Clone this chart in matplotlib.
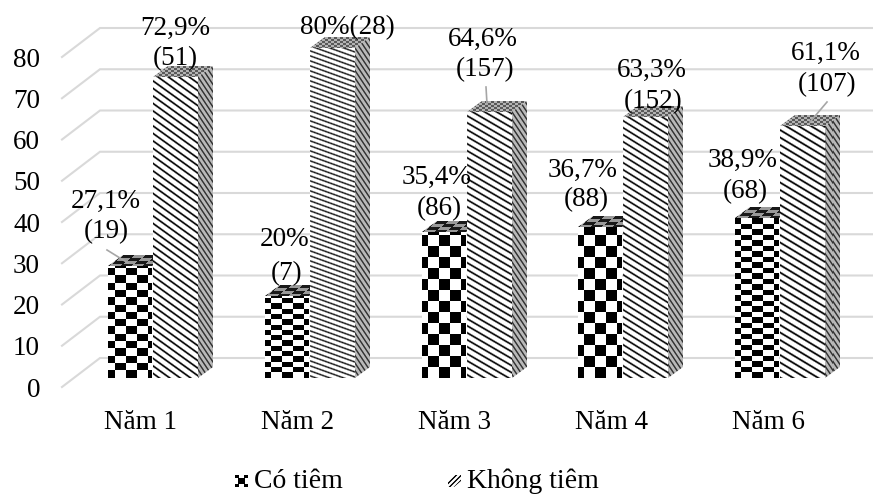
import numpy as np
import matplotlib
matplotlib.use("Agg")
import matplotlib.pyplot as plt
from matplotlib.patches import Polygon

plt.rcParams['font.family'] = ['Liberation Serif', 'DejaVu Serif']

# data
categories = ['Năm 1', 'Năm 2', 'Năm 3', 'Năm 4', 'Năm 6']
co_tiem = [27.1, 20, 35.4, 36.7, 38.9]
khong_tiem = [72.9, 80, 64.6, 63.3, 61.1]
y_ticks = [0, 10, 20, 30, 40, 50, 60, 70, 80]
series_names = ['Có tiêm', 'Không tiêm']

# label text and where it sits (pixels of the 873x494 picture, centre)
label_co = [('27,1%', '(19)'), ('20%', '(7)'), ('35,4%', '(86)'), ('36,7%', '(88)'), ('38,9%', '(68)')]
label_khong = [('72,9%', '(51)'), ('80%(28)', ''), ('64,6%', '(157)'), ('63,3%', '(152)'), ('61,1%', '(107)')]
pos_co = [((106, 201), (106, 232)), ((285, 239), (287, 274)), ((437, 177), (439, 209)),
          ((583, 170), (586, 200)), ((743, 160), (745, 192))]
pos_khong = [((175, 28), (175, 59)), ((347, 28), None), ((483, 39), (485, 70)),
             ((652, 70), (653, 102)), ((826, 53), (827, 85))]
leaders = [((107, 250), (128, 263)), ((827, 102), (810, 122)), ((486, 87), (487, 104))]

# texture per bar
check_h = [7.3, 5.3, 11, 11, 5.5]
check_off = [6.7, 6, 5.6, 5.5, 5.5]
stripe_slope = [0.72, 0.36, 0.58, 0.62, 0.6]
stripe_period = [7.5, 5.0, 7.0, 7.0, 7.5]

W, H = 873, 494
SPACING = 156.75
PY = 4.125        # pixels per unit
BASE = 378        # pixel row of value 0 at the bars
X0 = 152          # pixel column of first group centre
BAR_W = 45
DX, DY = 15, 11   # depth of a bar
GRID = '#d9d9d9'
FS = 19.5


def xd(px):
    return (px - X0) / SPACING


def yd(py):
    return (BASE - py) / PY


def stripes(w, h, slope, period, duty=0.28, bg=1.0, fg=0.0, soft=1.6):
    yy, xx = np.mgrid[0:h, 0:w]
    phase = ((yy - slope * xx) / period) % 1.0
    dist = np.abs(phase - 0.5) * period
    edge = np.clip((duty * period / 2 - dist) / soft + 0.5, 0, 1)
    return bg + (fg - bg) * edge


def checker(w, h, cw, ch, off):
    yy, xx = np.mgrid[0:h, 0:w]
    yy = h - 1 - yy
    return (((xx + 11 - off) // cw + yy // ch) % 2).astype(float)


def top_check(w, h, shear):
    yy, xx = np.mgrid[0:h, 0:w]
    u = xx - (h - yy) * shear
    return 0.1 + 0.5 * ((u // 11 + yy // 3) % 2)


def top_dots(w, h):
    yy, xx = np.mgrid[0:h, 0:w]
    return 0.35 + 0.35 * (((xx // 3) + (yy // 2)) % 2)


def paint(ax, tex, left, top, poly, z):
    # texture placed with pixel corner (left, top), clipped to the polygon
    h, w = tex.shape
    im = ax.imshow(tex, cmap='gray', vmin=0, vmax=1, interpolation='nearest', aspect='auto',
                   extent=(xd(left), xd(left + w), yd(top + h), yd(top)), zorder=z)
    patch = Polygon([(xd(a), yd(b)) for a, b in poly], closed=True, transform=ax.transData)
    im.set_clip_path(patch)


fig = plt.figure(figsize=(W / 100, H / 100), dpi=100)
ax = fig.add_axes([0, 0, 1, 1])
ax.axis('off')

# grid: slanted floor part + back wall
for v in y_ticks:
    yb = 358 - v * PY
    ax.plot([xd(62), xd(100), xd(873)], [yd(yb + 29), yd(yb), yd(yb)], color=GRID, lw=1.5, zorder=1,
            solid_joinstyle='miter')
    ax.text(xd(40), yd(yb + 29), str(v), fontsize=FS, ha='right', va='center_baseline', color='k', zorder=6)

for i in range(len(categories)):
    cx = X0 + i * SPACING
    cx = int(round(cx))

    # Có tiêm
    l = cx - 44
    r = cx
    t = int(round(BASE - co_tiem[i] * PY))
    tex = checker(r - l, BASE - t, 11, check_h[i], check_off[i])
    paint(ax, tex, l, t, [(l, t), (r, t), (r, BASE), (l, BASE)], 3)
    tex = top_check(r - l + DX, DY, DX / DY)
    paint(ax, tex, l, t - DY, [(l, t), (l + DX, t - DY), (r + DX, t - DY), (r, t)], 3)

    # Không tiêm
    l = cx + 1
    r = cx + BAR_W + 1
    t = int(round(BASE - khong_tiem[i] * PY))
    tex = stripes(r - l, BASE - t, stripe_slope[i], stripe_period[i])
    paint(ax, tex, l, t, [(l, t), (r, t), (r, BASE), (l, BASE)], 4)
    tex = top_dots(r - l + DX, DY)
    paint(ax, tex, l, t - DY, [(l, t), (l + DX, t - DY), (r + DX, t - DY), (r, t)], 4)
    tex = stripes(DX, BASE - t + DY, 1.5, 7.5, duty=0.35, bg=0.72, fg=0.2)
    paint(ax, tex, r, t - DY, [(r, t), (r + DX, t - DY), (r + DX, BASE - DY), (r, BASE)], 4)

    ax.text(xd(141 + i * SPACING), yd(422), categories[i], fontsize=FS, ha='center', va='center', color='k')

    for labels, places in ((label_co[i], pos_co[i]), (label_khong[i], pos_khong[i])):
        for s, p in zip(labels, places):
            if p is not None:
                ax.text(xd(p[0]), yd(p[1]), s, fontsize=FS, ha='center', va='center', color='k', zorder=7)

for a, b in leaders:
    ax.plot([xd(a[0]), xd(b[0])], [yd(a[1]), yd(b[1])], color='#a6a6a6', lw=1.2, zorder=6)

# legend
key1 = np.ones((12, 13))
key1[:3, :4] = 0
key1[:3, 9:] = 0
key1[9:, :4] = 0
key1[9:, 9:] = 0
key1[3:9, 3:10] = 0
paint(ax, key1, 235, 475, [(235, 475), (248, 475), (248, 487), (235, 487)], 5)
key2 = stripes(13, 12, -1.0, 5, duty=0.4, soft=1.2)
paint(ax, key2, 448, 475, [(448, 481), (454, 475), (461, 475), (461, 481), (454, 487), (448, 487)], 5)
ax.text(xd(254), yd(481), series_names[0], fontsize=FS + 0.5, ha='left', va='center', color='k')
ax.text(xd(467), yd(481), series_names[1], fontsize=FS + 0.5, ha='left', va='center', color='k')

ax.set_xlim(xd(0), xd(W))
ax.set_ylim(yd(H), yd(0))
fig.savefig('out.png', dpi=100)
